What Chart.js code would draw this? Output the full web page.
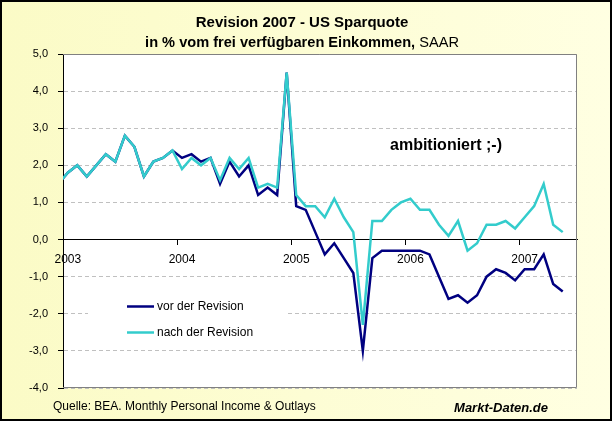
<!DOCTYPE html>
<html>
<head>
<meta charset="utf-8">
<script src="https://cdn.jsdelivr.net/npm/chart.js@4/dist/chart.umd.min.js"></script>
<style>
html, body { margin: 0; padding: 0; background: #fff; }
#chart { display: block; }
</style>
</head>
<body>
<canvas id="chart" width="612" height="421"></canvas>
<script>
// months: Dez 2002 (nur als Anschluss, wird am Rand abgeschnitten) bis Mai 2007
const months = [
  '2002-12',
  '2003-01','2003-02','2003-03','2003-04','2003-05','2003-06','2003-07','2003-08','2003-09','2003-10','2003-11','2003-12',
  '2004-01','2004-02','2004-03','2004-04','2004-05','2004-06','2004-07','2004-08','2004-09','2004-10','2004-11','2004-12',
  '2005-01','2005-02','2005-03','2005-04','2005-05','2005-06','2005-07','2005-08','2005-09','2005-10','2005-11','2005-12',
  '2006-01','2006-02','2006-03','2006-04','2006-05','2006-06','2006-07','2006-08','2006-09','2006-10','2006-11','2006-12',
  '2007-01','2007-02','2007-03','2007-04','2007-05'
];

const vorRevision = [
  1.5,
  1.8, 2.0, 1.7, 2.0, 2.3, 2.1, 2.8, 2.5, 1.7, 2.1, 2.2, 2.4,
  2.2, 2.3, 2.1, 2.2, 1.5, 2.1, 1.7, 2.0, 1.2, 1.4, 1.2, 4.5,
  0.9, 0.8, 0.2, -0.4, -0.1, -0.5, -0.9, -3.0, -0.5, -0.3, -0.3, -0.3,
  -0.3, -0.3, -0.4, -1.0, -1.6, -1.5, -1.7, -1.5, -1.0, -0.8, -0.9, -1.1,
  -0.8, -0.8, -0.4, -1.2, -1.4
];

const nachRevision = [
  1.5,
  1.8, 2.0, 1.7, 2.0, 2.3, 2.1, 2.8, 2.5, 1.7, 2.1, 2.2, 2.4,
  1.9, 2.2, 2.0, 2.2, 1.6, 2.2, 1.9, 2.2, 1.4, 1.5, 1.4, 4.5,
  1.2, 0.9, 0.9, 0.6, 1.1, 0.6, 0.2, -2.3, 0.5, 0.5, 0.8, 1.0,
  1.1, 0.8, 0.8, 0.4, 0.1, 0.5, -0.3, -0.1, 0.4, 0.4, 0.5, 0.3,
  0.6, 0.9, 1.5, 0.4, 0.2
];

const yearTicks = [0, 12, 24, 36, 48];
const yearLabels = ['2003', '2004', '2005', '2006', '2007'];

const seriesNames = ['vor der Revision', 'nach der Revision'];
const seriesColors = ['#000080', '#33CCCC'];

const FONT = '"Liberation Sans", Arial, sans-serif';

// x = Monate seit Jan 2003, Punkte jeweils in Monatsmitte
function toPoints(values) {
  return values.map((v, i) => ({ x: i - 0.5, y: v }));
}

const deco = {
  id: 'deco',
  beforeDraw(chart) {
    const c = chart.ctx, a = chart.chartArea;
    c.save();
    const g = c.createLinearGradient(0, 0, chart.width, 0);
    g.addColorStop(0, '#FBFBC6');
    g.addColorStop(1, '#FFFFE2');
    c.fillStyle = g;
    c.fillRect(0, 0, chart.width, chart.height);
    c.fillStyle = '#fff';
    c.fillRect(a.left, a.top, a.right - a.left, a.bottom - a.top);
    c.restore();
  },
  beforeDatasetsDraw(chart) {
    const c = chart.ctx, a = chart.chartArea;
    c.save();
    // Rahmen der Zeichenfläche
    c.strokeStyle = '#808080';
    c.lineWidth = 1;
    c.beginPath();
    c.moveTo(a.left, a.top + 0.5);
    c.lineTo(a.right - 0.5, a.top + 0.5);
    c.lineTo(a.right - 0.5, a.bottom - 0.5);
    c.lineTo(a.left, a.bottom - 0.5);
    c.stroke();

    // Legende
    c.fillStyle = '#fff';
    c.fillRect(a.left + 25, 290, 198, 52);
    c.font = '12px ' + FONT;
    c.textBaseline = 'middle';
    c.textAlign = 'left';
    seriesNames.forEach((name, i) => {
      const y = 306.5 + i * 26;
      c.strokeStyle = seriesColors[i];
      c.lineWidth = 2.5;
      c.beginPath();
      c.moveTo(a.left + 64, y);
      c.lineTo(a.left + 91, y);
      c.stroke();
      c.fillStyle = '#000';
      c.fillText(name, a.left + 94, y);
    });
    c.restore();
  },
  afterDraw(chart) {
    const c = chart.ctx;
    c.save();
    c.fillStyle = '#000';
    c.textBaseline = 'middle';

    // Titel
    c.textAlign = 'center';
    c.font = 'bold 15px ' + FONT;
    c.fillText('Revision 2007 - US Sparquote', 302, 23);
    const t1 = 'in % vom frei verfügbaren Einkommen,';
    const t2 = ' SAAR';
    c.font = 'bold 14.6px ' + FONT;
    const w1 = c.measureText(t1).width;
    c.font = '14.6px ' + FONT;
    const w2 = c.measureText(t2).width;
    const x0 = 302 - (w1 + w2) / 2;
    c.textAlign = 'left';
    c.font = 'bold 14.6px ' + FONT;
    c.fillText(t1, x0, 43);
    c.font = '14.6px ' + FONT;
    c.fillText(t2, x0 + w1, 43);

    // Kommentar
    c.font = 'bold 16px ' + FONT;
    c.fillText('ambitioniert ;-)', 390, 146);

    // Quelle
    c.font = '12px ' + FONT;
    c.fillText('Quelle: BEA. Monthly Personal Income & Outlays', 53, 407);
    c.textAlign = 'center';
    c.font = 'italic bold 13px ' + FONT;
    c.fillText('Markt-Daten.de', 501, 408);

    // Außenrahmen
    c.strokeStyle = '#000';
    c.lineWidth = 2;
    c.strokeRect(1, 1, chart.width - 2, chart.height - 2);
    c.restore();
  }
};

new Chart(document.getElementById('chart').getContext('2d'), {
  type: 'line',
  data: {
    datasets: [
      {
        label: seriesNames[0],
        data: toPoints(vorRevision),
        borderColor: seriesColors[0],
        borderWidth: 2.5,
        pointRadius: 0,
        tension: 0,
        clip: 0,
        order: 1
      },
      {
        label: seriesNames[1],
        data: toPoints(nachRevision),
        borderColor: seriesColors[1],
        borderWidth: 2.5,
        pointRadius: 0,
        tension: 0,
        clip: 0,
        order: 0
      }
    ]
  },
  options: {
    responsive: false,
    animation: false,
    layout: { padding: { top: 54, right: 35, bottom: 33, left: 0 } },
    plugins: {
      legend: { display: false },
      title: { display: false },
      tooltip: { enabled: false }
    },
    scales: {
      x: {
        type: 'linear',
        position: { y: 0 },
        min: 0,
        max: 54,
        afterBuildTicks: s => { s.ticks = yearTicks.map(v => ({ value: v })); },
        ticks: {
          callback: (v, i) => yearLabels[i],
          labelOffset: 4.8,
          padding: 8,
          maxRotation: 0,
          autoSkip: false,
          color: '#000',
          font: { family: FONT, size: 12 }
        },
        grid: { drawOnChartArea: false, tickLength: 5, color: '#000', tickColor: '#000' },
        border: { color: '#000', width: 1 }
      },
      y: {
        min: -4,
        max: 5,
        afterFit: s => { s.width = 63; },
        ticks: {
          stepSize: 1,
          callback: v => v.toFixed(1).replace('.', ','),
          padding: 10,
          color: '#000',
          font: { family: FONT, size: 11 }
        },
        grid: { color: '#C0C0C0', tickColor: '#000', tickLength: 5, tickBorderDash: [] },
        border: { color: '#000', width: 1, dash: [4, 3] }
      }
    }
  },
  plugins: [deco]
});
</script>
</body>
</html>
